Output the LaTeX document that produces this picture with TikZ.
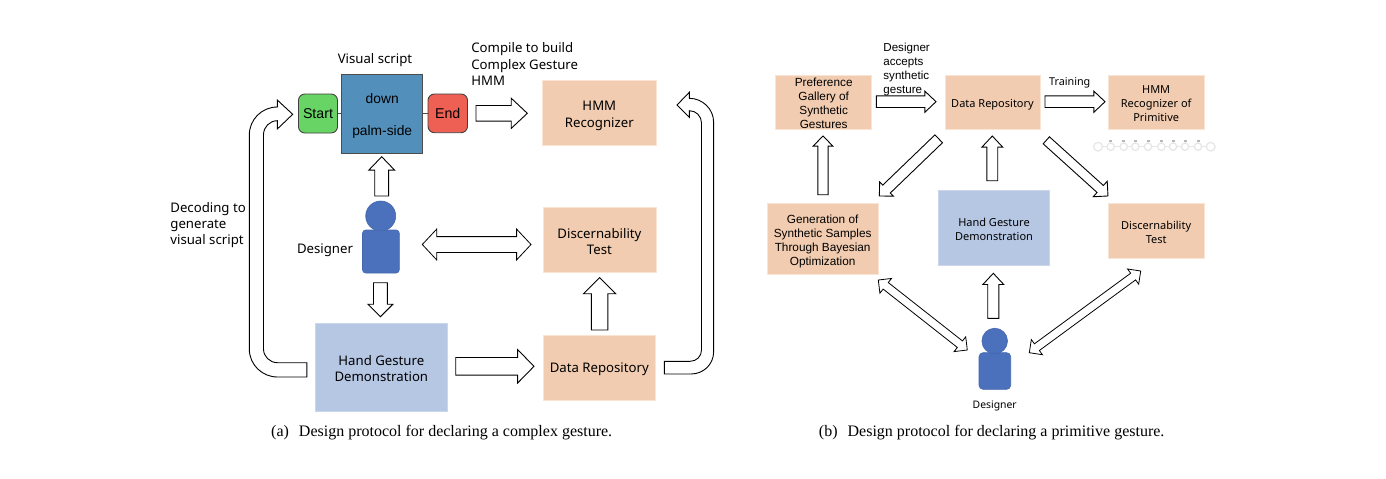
\documentclass[tikz,border=0pt]{standalone}
\usepackage{fontspec}
\usetikzlibrary{shapes.arrows}
\setmainfont{Liberation Sans}
\newfontfamily\tahomaish{Noto Sans}
\newfontfamily\capfont{Liberation Serif}
\definecolor{peach}{HTML}{F2CCB0}
\definecolor{peachline}{HTML}{F9E4D6}
\definecolor{softblue}{HTML}{B6C7E4}
\definecolor{softblueline}{HTML}{C9D6EC}
\definecolor{person}{HTML}{4C71BC}
\definecolor{personline}{HTML}{4467AD}
\definecolor{vgreen}{HTML}{69D466}
\definecolor{vblue}{HTML}{528FBB}
\definecolor{vred}{HTML}{EE6054}
\definecolor{chain}{HTML}{E6E6E6}
\newcommand{\dn}[1]{\rule{0pt}{#1pt}}
\tikzset{
  barrow/.style={single arrow,draw=black,fill=white,line width=0.45pt,inner sep=0pt,outer sep=0pt,anchor=tail},
  dbarrow/.style={double arrow,draw=black,fill=white,line width=0.4pt,inner sep=0pt,outer sep=0pt,anchor=center},
  curved/.style={draw=black,fill=white,line width=0.45pt,line join=miter},
  flatbox/.style={inner sep=0pt,outer sep=0pt,align=center},
  peachbox/.style={flatbox,fill=peach,draw=peachline,line width=0.4pt},
  bluebox/.style={flatbox,fill=softblue,draw=softblueline,line width=0.4pt},
  fontA/.style={font=\tahomaish\fontsize{6.6}{8.1}\selectfont},
  fontB/.style={font=\tahomaish\fontsize{5.5}{7}\selectfont},
  fontC/.style={font=\fontsize{5.9}{7}\selectfont},
  labA/.style={fontA,align=center,inner sep=0pt},
  labAL/.style={fontA,align=left,inner sep=0pt},
  capt/.style={font=\capfont\fontsize{8}{9}\selectfont,inner sep=0pt},
  pill/.style={flatbox,draw=black!75,line width=0.45pt,rounded corners=3.2pt,font=\fontsize{7.1}{8}\selectfont},
  persona/.style={circle,fill=person,draw=personline,line width=0.3pt,inner sep=0pt,outer sep=0pt},
  personb/.style={fill=person,draw=personline,line width=0.3pt},
  chainl/.style={draw=chain,line width=0.6pt,fill=white},
}
% name, x1,y1 (tail), x2,y2 (tip), shaft, head, head length: all in reference pixels
\newcommand{\blockarrow}[8]{%
  \pgfmathsetmacro{\alen}{veclen(#4-#2,#5-#3)}%
  \pgfmathsetmacro{\aang}{atan2(#3-#5,#4-#2)}%
  \pgfmathsetmacro{\atip}{2*atan((#7/2)/#8)}%
  \pgfmathsetmacro{\aext}{(#7-#6)/4}%
  \pgfmathsetmacro{\ashaft}{#6/2}%
  \node[barrow,rotate=\aang,minimum height=\alen*0.5pt,minimum width=#7*0.5pt,
        single arrow tip angle=\atip,single arrow head extend=\aext pt] (#1) at (#2,#3) {\rule{0pt}{\ashaft pt}};%
}
\newcommand{\twoarrow}[8]{%
  \pgfmathsetmacro{\alen}{veclen(#4-#2,#5-#3)}%
  \pgfmathsetmacro{\aang}{atan2(#3-#5,#4-#2)}%
  \pgfmathsetmacro{\atip}{2*atan((#7/2)/#8)}%
  \pgfmathsetmacro{\aext}{(#7-#6)/4}%
  \pgfmathsetmacro{\ashaft}{#6/2}%
  \node[dbarrow,rotate=\aang,minimum height=\alen*0.5pt,minimum width=#7*0.5pt,
        double arrow tip angle=\atip,double arrow head extend=\aext pt] (#1) at ({(#2+#4)/2},{(#3+#5)/2}) {\rule{0pt}{\ashaft pt}};%
}
% name, x1,y1,x2,y2, style, text
\newcommand{\pxbox}[7]{%
  \node[#6,minimum width=(#4-#2)*0.5pt,minimum height=(#5-#3)*0.5pt] (#1) at ({(#2+#4)/2},{(#3+#5)/2}) {#7};%
}
\begin{document}
\begin{tikzpicture}[x=0.5pt,y=-0.5pt]
\useasboundingbox[fill=white] (0,0) rectangle (1386,478);

% ---------- panel (a) ----------
\pxbox{start}{298.5}{94}{337.5}{133}{pill,fill=vgreen}{Start}
\pxbox{script}{341.7}{74.5}{422.7}{153}{flatbox,fill=vblue,draw=black!70,line width=0.45pt,font=\fontsize{6.9}{16}\selectfont}{\dn{7}down\\palm-side}
\pxbox{endb}{428}{94}{467.5}{132.7}{pill,fill=vred}{End}
\draw[line width=0.4pt,draw=black!70] (start) -- (script);
\draw[line width=0.4pt,draw=black!70] (script) -- (endb);
\node[labA] (tscript) at (375,60) {Visual script};
\node[labAL,anchor=west] (tcompile) at (471,64) {Compile to build\\Complex Gesture\\HMM};
\node[labAL,anchor=west] (tdecode) at (170,225) {Decoding to\\generate\\visual script};
\node[labA] (tdesa) at (325,250.5) {Designer};

\pxbox{hmma}{542.7}{80}{656}{145.3}{peachbox,fontA}{\dn{8}HMM\\Recognizer}
\pxbox{disa}{542.9}{207.7}{656}{272.7}{peachbox,fontA}{\dn{6}Discernability\\Test}
\pxbox{dataa}{542.9}{335}{655.7}{400}{peachbox,fontA}{\dn{7}Data Repository}
\pxbox{handa}{315.7}{323}{447}{411}{bluebox,fontA}{\dn{6.5}Hand Gesture\\Demonstration}

\path[personb,rounded corners=1.6pt] (362.5,273) -- (362.5,230) -- (399.3,230) -- (399.3,273) -- cycle;
\node[persona,minimum size=15pt] (heada) at (380.7,216) {};

\blockarrow{a1}{381.7}{196}{381.7}{156.7}{13}{25}{13}
\blockarrow{a2}{380.4}{282.7}{380.4}{316.7}{13}{24}{12}
\twoarrow{a3}{422.3}{244.5}{531}{244.5}{15}{30}{14}
\blockarrow{a4}{455.7}{366.3}{534}{366.3}{16.7}{32.7}{16}
\blockarrow{a5}{599.6}{330}{599.6}{277.7}{15.7}{31.4}{15.6}
\blockarrow{a6}{476}{113.3}{527.3}{113.3}{14.7}{29.3}{15.6}

% curved arrow, demonstration back to Start
\path[curved] (306.8,362.7) -- (277.5,362.7)
  .. controls (269.9,362.7) and (263.5,356.6) .. (263.5,349)
  -- (263.5,134.7)
  .. controls (263.5,127) and (269.7,120.7) .. (277.3,120.7)
  -- (277.3,129) -- (292.7,114.3) -- (277.3,100) -- (277.3,107)
  .. controls (261.8,107) and (249.3,119.5) .. (249.3,135)
  -- (249.3,349)
  .. controls (249.3,364.5) and (262,377) .. (277.5,377)
  -- (306.8,377) -- cycle;
% curved arrow, data repository to HMM recognizer
\path[curved] (664.3,361.3) -- (690,361.3)
  .. controls (696.5,361.3) and (701.5,356.3) .. (701.5,350)
  -- (701.5,123)
  .. controls (701.5,116) and (696,110.7) .. (689.3,110.7)
  -- (689.3,117.3) -- (677,105) -- (689.3,92.3) -- (689.3,98.3)
  .. controls (702.7,98.3) and (713.6,109.2) .. (713.6,122)
  -- (713.6,352)
  .. controls (713.6,364.2) and (703.5,374) .. (691,374)
  -- (664.3,374) -- cycle;

\node[capt] (capa) at (441.7,432.5) {(a)\hspace{3pt} Design protocol for declaring a complex gesture.};

% ---------- panel (b) ----------
\pxbox{pref}{775.7}{75}{871.7}{129.7}{peachbox,fontC}{\dn{5.5}Preference\\Gallery of\\Synthetic\\Gestures}
\pxbox{datab}{945}{75}{1040}{129.7}{peachbox,fontB}{\dn{6.2}Data Repository}
\pxbox{hmmb}{1108.3}{75}{1204}{129.7}{peachbox,fontB}{\dn{5.4}HMM\\Recognizer of\\Primitive}
\pxbox{gen}{767.3}{203}{878}{274.7}{peachbox,fontC}{\dn{7}Generation of\\Synthetic Samples\\Through Bayesian\\Optimization}
\pxbox{handb}{938.7}{190.3}{1049.3}{265}{bluebox,fontB}{\dn{6}Hand Gesture\\Demonstration}
\pxbox{disb}{1108.3}{203}{1204}{258.3}{peachbox,fontB}{\dn{6}Discernability\\Test}

\node[inner sep=0pt,align=left,anchor=west,font=\fontsize{5.8}{7}\selectfont] (taccept) at (883,69) {Designer\\accepts\\synthetic\\gesture};
\node[inner sep=0pt,font=\tahomaish\fontsize{5.4}{7}\selectfont] (ttrain) at (1069.7,83.3) {Training};
\node[inner sep=0pt,font=\tahomaish\fontsize{5.2}{6}\selectfont] (tdesb) at (994.7,405.7) {Designer};

\blockarrow{b1}{876.3}{101.7}{936}{101.7}{10.7}{20.3}{10.7}
\blockarrow{b2}{1045}{101.7}{1105}{101.7}{10.7}{20.3}{10.7}
\blockarrow{b3}{823}{194.7}{823}{136}{9.3}{19}{9.7}
\blockarrow{b4}{992.3}{180.7}{992.3}{136}{10}{20}{10.7}
\blockarrow{b5}{938.7}{138.8}{879.3}{196}{10}{19}{9.5}
\blockarrow{b6}{1046.3}{140.3}{1108}{196}{8.5}{20}{10}
\blockarrow{b7}{993.3}{318.3}{993.3}{273.3}{10.3}{20}{10.7}
\twoarrow{b8}{878.3}{280}{967.3}{350}{7.5}{18}{9}
\twoarrow{b9}{1140.7}{271}{1029.3}{352.7}{7.5}{18}{9}

% designer figure (b)
\path[personb,rounded corners=2pt] (979,389.3) -- (979,352.7) -- (1010.7,352.7) -- (1010.7,389.3) -- cycle;
\node[persona,minimum size=12.8pt] (headb) at (994.7,341) {};

% HMM state chain
\draw[chainl] (1098,146.7) -- (1210.7,146.7);
\foreach \sx in {1110.7,1123.7,1135.3,1148,1161.3,1173,1185,1198}{
  \draw[chainl,fill=none,line width=0.5pt] (\sx,146.7) -- (\sx,141.5);
  \fill[chain!80!black] (\sx-1.5,139.5) rectangle (\sx+1.5,142);
  \draw[chainl] (\sx,146.7) circle[radius=3.7];
}
\draw[chainl] (1098,146.7) circle[radius=4.4];
\draw[chainl] (1210.7,146.7) circle[radius=4.4];

\node[capt] (capb) at (991.7,432.5) {(b)\hspace{3pt} Design protocol for declaring a primitive gesture.};
\end{tikzpicture}
\end{document}
